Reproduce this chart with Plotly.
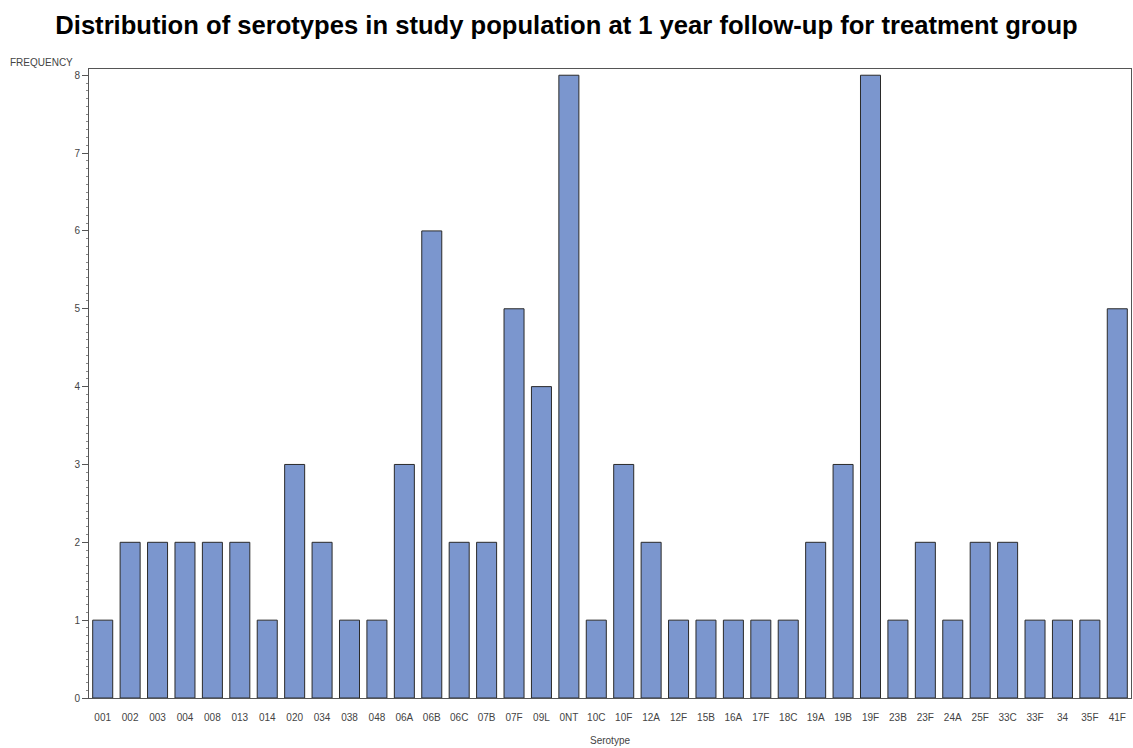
import plotly.graph_objects as go

serotypes = ["001", "002", "003", "004", "008", "013", "014", "020", "034", "038",
             "048", "06A", "06B", "06C", "07B", "07F", "09L", "0NT", "10C", "10F",
             "12A", "12F", "15B", "16A", "17F", "18C", "19A", "19B", "19F", "23B",
             "23F", "24A", "25F", "33C", "33F", "34", "35F", "41F"]
frequency = [1, 2, 2, 2, 2, 2, 1, 3, 2, 1,
             1, 3, 6, 2, 2, 5, 4, 8, 1, 3,
             2, 1, 1, 1, 1, 1, 2, 3, 8, 1,
             2, 1, 2, 2, 1, 1, 1, 5]
y_ticks = [0, 1, 2, 3, 4, 5, 6, 7, 8]

fig = go.Figure(go.Bar(
    x=serotypes, y=frequency,
    marker=dict(color="#7B96CE", line=dict(color="#2a2a2a", width=1)),
))

fig.update_layout(
    width=1133, height=748,
    margin=dict(l=89, r=2, t=69, b=50),
    paper_bgcolor="white", plot_bgcolor="white",
    bargap=0.27,
    showlegend=False,
    font=dict(family="Liberation Sans, Arial, sans-serif", color="#444444", size=10),
    title=dict(text="<b>Distribution of serotypes in study population at 1 year follow-up for treatment group</b>",
               x=0.5, xanchor="center", y=0.966, yanchor="middle",
               font=dict(size=25.6, color="black", family="Liberation Sans, Arial, sans-serif")),
    xaxis=dict(
        type="category", range=[-0.5, len(serotypes) - 0.5],
        showline=True, linecolor="#555555", linewidth=1, mirror=True,
        ticks="", showgrid=False, zeroline=False,
        ticklabelstandoff=10,
        tickfont=dict(size=10, color="#444444"),
        title=dict(text="Serotype", font=dict(size=10, color="#444444"), standoff=14),
    ),
    yaxis=dict(
        range=[0, 8.08], tickvals=y_ticks,
        showline=True, linecolor="#555555", linewidth=1, mirror=True,
        ticks="outside", ticklen=6, tickcolor="#555555",
        minor=dict(dtick=0.1, ticks="outside", ticklen=2, tickcolor="#888888"),
        showgrid=False, zeroline=False,
        tickfont=dict(size=10, color="#444444"),
    ),
    annotations=[dict(
        text="FREQUENCY", xref="paper", yref="paper",
        x=-0.078, y=1, xanchor="left", yanchor="bottom", yshift=-1,
        showarrow=False, font=dict(size=10, color="#444444"),
    )],
)

fig.write_html(
    "out.html",
    config={"displayModeBar": False},
    post_script="document.body.style.margin='0';document.body.style.overflow='hidden';",
)
